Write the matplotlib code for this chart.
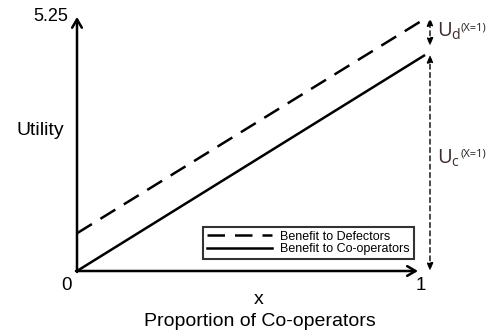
import matplotlib
matplotlib.use('Agg')
import matplotlib.pyplot as plt
from matplotlib.lines import Line2D

# data: utility at x = 0 and x = 1
x_vals = [0, 1]
defectors = [0.78, 5.2]
cooperators = [0, 4.45]
y_top = 5.25
y_top_label = '5.25'
x_tick_labels = ['0', '1']

plt.rcParams['font.family'] = ['Liberation Sans', 'DejaVu Sans']
plt.rcParams['mathtext.fontset'] = 'custom'
plt.rcParams['mathtext.rm'] = 'Open Sans'

fig = plt.figure(figsize=(4.93, 3.35), dpi=100)
ax = fig.add_axes([0, 0, 1, 1])
# pixel mapping: x=0 at px 77, x=1 at px 424; y=0 at row 271, 48.4 px per unit
sx, sy = 347.0, 48.4
ax.set_xlim(-77 / sx, (493 - 77) / sx)
ax.set_ylim((271 - 335) / sy, 271 / sy)
ax.set_axis_off()

# main lines
ax.plot(x_vals, defectors, color='black', lw=1.8, ls=(0, (7, 4)))
ax.plot(x_vals, cooperators, color='black', lw=1.8)

# axes arrows
arr = dict(arrowstyle='->,head_width=0.35,head_length=0.6', color='black', lw=1.8,
           shrinkA=0, shrinkB=0)
ax.annotate('', xy=(0, y_top), xytext=(0, -0.02), arrowprops=arr)
ax.annotate('', xy=((418 - 77) / sx, 0), xytext=(-0.003, 0), arrowprops=arr)

# vertical dashed bracket at x slightly past 1
xv = (430 - 77) / sx
darr = dict(arrowstyle='<|-|>,head_width=0.18,head_length=0.45', color='black', lw=1.0,
            ls=(0, (3.5, 2.5)), shrinkA=0, shrinkB=0)
ax.annotate('', xy=(xv, defectors[1] + 0.03), xytext=(xv, cooperators[1] + 0.2), arrowprops=darr)
ax.annotate('', xy=(xv, cooperators[1] + 0.02), xytext=(xv, 0), arrowprops=darr)

# tick labels
ax.text(-9 / sx, y_top, y_top_label, ha='right', va='center', fontsize=13)
ax.text(-10 / sx, -14 / sy, x_tick_labels[0], ha='center', va='center', fontsize=13.5)
ax.text(1 - 3 / sx, -14 / sy, x_tick_labels[1], ha='center', va='center', fontsize=13.5)
ax.text(-37 / sx, (271 - 130) / sy, 'Utility', ha='center', va='center', fontsize=14)
ax.text((259 - 77) / sx, -28 / sy, 'x', ha='center', va='center', fontsize=14)
ax.text((260 - 77) / sx, -51 / sy, 'Proportion of Co-operators', ha='center', va='center', fontsize=14)

# U labels
ucol = '#3e2b2b'
for base_row, sub, sup_row in [(37, 'd', 28), (164, 'c', 154)]:
    ax.text((437 - 77) / sx, (271 - base_row) / sy, r'$\mathrm{U}_{\mathrm{%s}}$' % sub,
            ha='left', va='baseline', fontsize=14.5, color=ucol)
    ax.text((460 - 77) / sx, (271 - sup_row) / sy, '(X=1)', ha='left', va='center',
            fontsize=8, color='#222222', family='Open Sans')

# legend
handles = [Line2D([], [], color='black', lw=1.8, ls=(0, (7, 4))),
           Line2D([], [], color='black', lw=1.8)]
leg = ax.legend(handles, ['Benefit to Defectors', 'Benefit to Co-operators'],
                loc='lower left', bbox_to_anchor=(203 / 493, 1 - 259 / 335),
                bbox_transform=fig.transFigure, fontsize=9, frameon=True,
                fancybox=False, edgecolor='black', handlelength=5.2,
                borderpad=0.3, labelspacing=0.05, handletextpad=0.7,
                borderaxespad=0)
leg.get_frame().set_linewidth(1.5)

fig.savefig('out.png', dpi=100)
